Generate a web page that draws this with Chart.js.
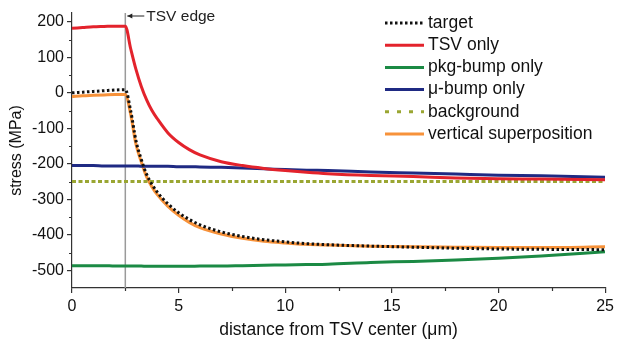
<!DOCTYPE html>
<html>
<head>
<meta charset="utf-8">
<script src="https://cdn.jsdelivr.net/npm/chart.js@4/dist/chart.umd.min.js"></script>
<style>
  html, body { margin: 0; padding: 0; background: #fff; }
  #wrap { width: 618px; height: 344px; }
</style>
</head>
<body>
<div id="wrap"><canvas id="stressChart" width="618" height="344"></canvas></div>
<script>
// distance from TSV center (um)
var distance = [0, 0.5, 1, 1.5, 2, 2.5, 2.75, 3, 3.25, 3.5, 3.75, 4, 4.5, 5, 5.5, 6, 7, 8, 9, 10, 11, 12, 14, 16, 18, 20, 22, 25];

// stress (MPa)
var target     = [0, 2, 4, 6, 8, 9, -50, -135, -188, -230, -258, -280, -313, -338, -357, -372, -392, -405, -414, -420, -425, -428, -432, -435, -438, -440, -441, -442];
var tsvOnly    = [182, 184, 186, 187, 188, 188, 125, 66, 18, -20, -50, -73, -113, -140, -160, -175, -194, -205, -213, -219, -224, -228, -233, -236, -240, -242, -243, -245];
var pkgBump    = [-487, -487, -487, -487, -488, -488, -488, -488, -488, -489, -489, -489, -489, -489, -489, -488, -488, -487, -486, -485, -484, -483, -478, -475, -471, -466, -460, -448];
var microBump  = [-205, -205, -205, -206, -206, -206, -206, -206, -207, -207, -207, -207, -207, -208, -208, -209, -210, -212, -214, -216, -218, -219, -223, -226, -229, -232, -234, -238];
var background = [-250, -250, -250, -250, -250, -250, -250, -250, -250, -250, -250, -250, -250, -250, -250, -250, -250, -250, -250, -250, -250, -250, -250, -250, -250, -250, -250, -250];
var superpos   = [-10, -8, -7, -6, -5, -5, -60, -145, -195, -237, -265, -287, -320, -345, -365, -380, -398, -410, -418, -423, -427, -429, -432, -434, -435, -436, -436, -434];

var yTicks = [200, 100, 0, -100, -200, -300, -400, -500];
var tsvEdge = 2.5;

var FONT = '"Liberation Sans", Arial, Helvetica, sans-serif';

function pts(ys) {
    return distance.map(function (x, i) { return { x: x, y: ys[i] }; });
}

function series(label, ys, color, width, dash, legendDash) {
    return {
        label: label,
        data: pts(ys),
        borderColor: color,
        backgroundColor: color,
        borderWidth: width,
        borderDash: dash,
        legendDash: legendDash || dash,
        pointRadius: 0,
        fill: false,
        cubicInterpolationMode: 'monotone'
    };
}

// minor ticks, the TSV edge marker and the inset legend
var extras = {
    id: 'extras',
    beforeDatasetsDraw: function (chart) {
        var ctx = chart.ctx, a = chart.chartArea;
        var x = chart.scales.x.getPixelForValue(tsvEdge);
        ctx.save();
        ctx.strokeStyle = '#9a9a9a';
        ctx.lineWidth = 1.5;
        ctx.beginPath();
        ctx.moveTo(x, a.top);
        ctx.lineTo(x, a.bottom);
        ctx.stroke();
        ctx.restore();
    },
    afterDraw: function (chart) {
        var ctx = chart.ctx, a = chart.chartArea;
        var xs = chart.scales.x, ys = chart.scales.y;
        ctx.save();
        ctx.strokeStyle = '#333';
        ctx.lineWidth = 1.2;
        ctx.beginPath();
        [2.5, 7.5, 12.5, 17.5, 22.5].forEach(function (v) {
            var px = Math.round(xs.getPixelForValue(v)) + 0.5;
            ctx.moveTo(px, a.bottom);
            ctx.lineTo(px, a.bottom + 3);
        });
        [150, 50, -50, -150, -250, -350, -450].forEach(function (v) {
            var py = Math.round(ys.getPixelForValue(v)) + 0.5;
            ctx.moveTo(a.left, py);
            ctx.lineTo(a.left - 3, py);
        });
        ctx.stroke();

        // TSV edge annotation
        var ex = xs.getPixelForValue(tsvEdge);
        var ey = a.top + 3;
        ctx.strokeStyle = '#222';
        ctx.fillStyle = '#222';
        ctx.lineWidth = 1;
        ctx.beginPath();
        ctx.moveTo(ex + 2, ey);
        ctx.lineTo(ex + 19, ey);
        ctx.stroke();
        ctx.beginPath();
        ctx.moveTo(ex + 2, ey);
        ctx.lineTo(ex + 7, ey - 2.5);
        ctx.lineTo(ex + 7, ey + 2.5);
        ctx.closePath();
        ctx.fill();
        ctx.font = '15.5px ' + FONT;
        ctx.textBaseline = 'middle';
        ctx.fillText('TSV edge', ex + 21, ey + 1);

        // legend
        var lx = 385, ly = 23, step = 22.2;
        ctx.font = '17.5px ' + FONT;
        chart.data.datasets.forEach(function (ds, i) {
            var y = ly + i * step;
            ctx.strokeStyle = ds.borderColor;
            ctx.lineWidth = ds.borderWidth;
            ctx.setLineDash(ds.legendDash || []);
            ctx.beginPath();
            ctx.moveTo(lx, y);
            ctx.lineTo(lx + 39, y);
            ctx.stroke();
            ctx.setLineDash([]);
            ctx.fillStyle = '#111';
            ctx.textBaseline = 'middle';
            ctx.fillText(ds.label, lx + 43, y);
        });
        ctx.restore();
    }
};

new Chart(document.getElementById('stressChart'), {
    type: 'line',
    data: {
        datasets: [
            series('target', target, '#111111', 3, [2.5, 2.5]),
            series('TSV only', tsvOnly, '#e3232c', 3, []),
            series('pkg-bump only', pkgBump, '#1b8a44', 3, []),
            series('\u03bc-bump only', microBump, '#1f2a83', 3, []),
            series('background', background, '#9aa632', 3, [4, 2.5], [4, 8]),
            series('vertical superposition', superpos, '#f7923a', 3, [])
        ]
    },
    options: {
        responsive: false,
        animation: false,
        devicePixelRatio: 1,
        layout: { padding: { top: 13, right: 9, left: 0, bottom: 0 } },
        plugins: {
            legend: { display: false },
            tooltip: { enabled: false }
        },
        scales: {
            x: {
                type: 'linear',
                min: 0,
                max: 25,
                ticks: {
                    stepSize: 5,
                    color: '#111',
                    padding: 4,
                    maxRotation: 0,
                    font: { family: FONT, size: 16 }
                },
                grid: { drawOnChartArea: false, drawTicks: true, tickLength: 5, color: '#333', lineWidth: 1.2 },
                border: { display: true, color: '#333', width: 1.2 },
                title: {
                    display: true,
                    text: 'distance from TSV center (\u03bcm)',
                    color: '#111',
                    font: { family: FONT, size: 17.5 },
                    padding: { top: 0, bottom: 3 }
                },
                afterFit: function (s) { s.height = 56; }
            },
            y: {
                type: 'linear',
                min: -550,
                max: 225,
                afterBuildTicks: function (s) {
                    s.ticks = yTicks.map(function (v) { return { value: v }; });
                },
                ticks: {
                    color: '#111',
                    padding: 3,
                    font: { family: FONT, size: 16 }
                },
                grid: { drawOnChartArea: false, drawTicks: true, tickLength: 5, color: '#333', lineWidth: 1.2 },
                border: { display: true, color: '#333', width: 1.2 },
                title: {
                    display: true,
                    text: 'stress (MPa)',
                    color: '#111',
                    font: { family: FONT, size: 16 },
                    padding: { top: 7, bottom: 0 }
                },
                afterFit: function (s) { s.width = 72; }
            }
        }
    },
    plugins: [extras]
});
</script>
</body>
</html>
